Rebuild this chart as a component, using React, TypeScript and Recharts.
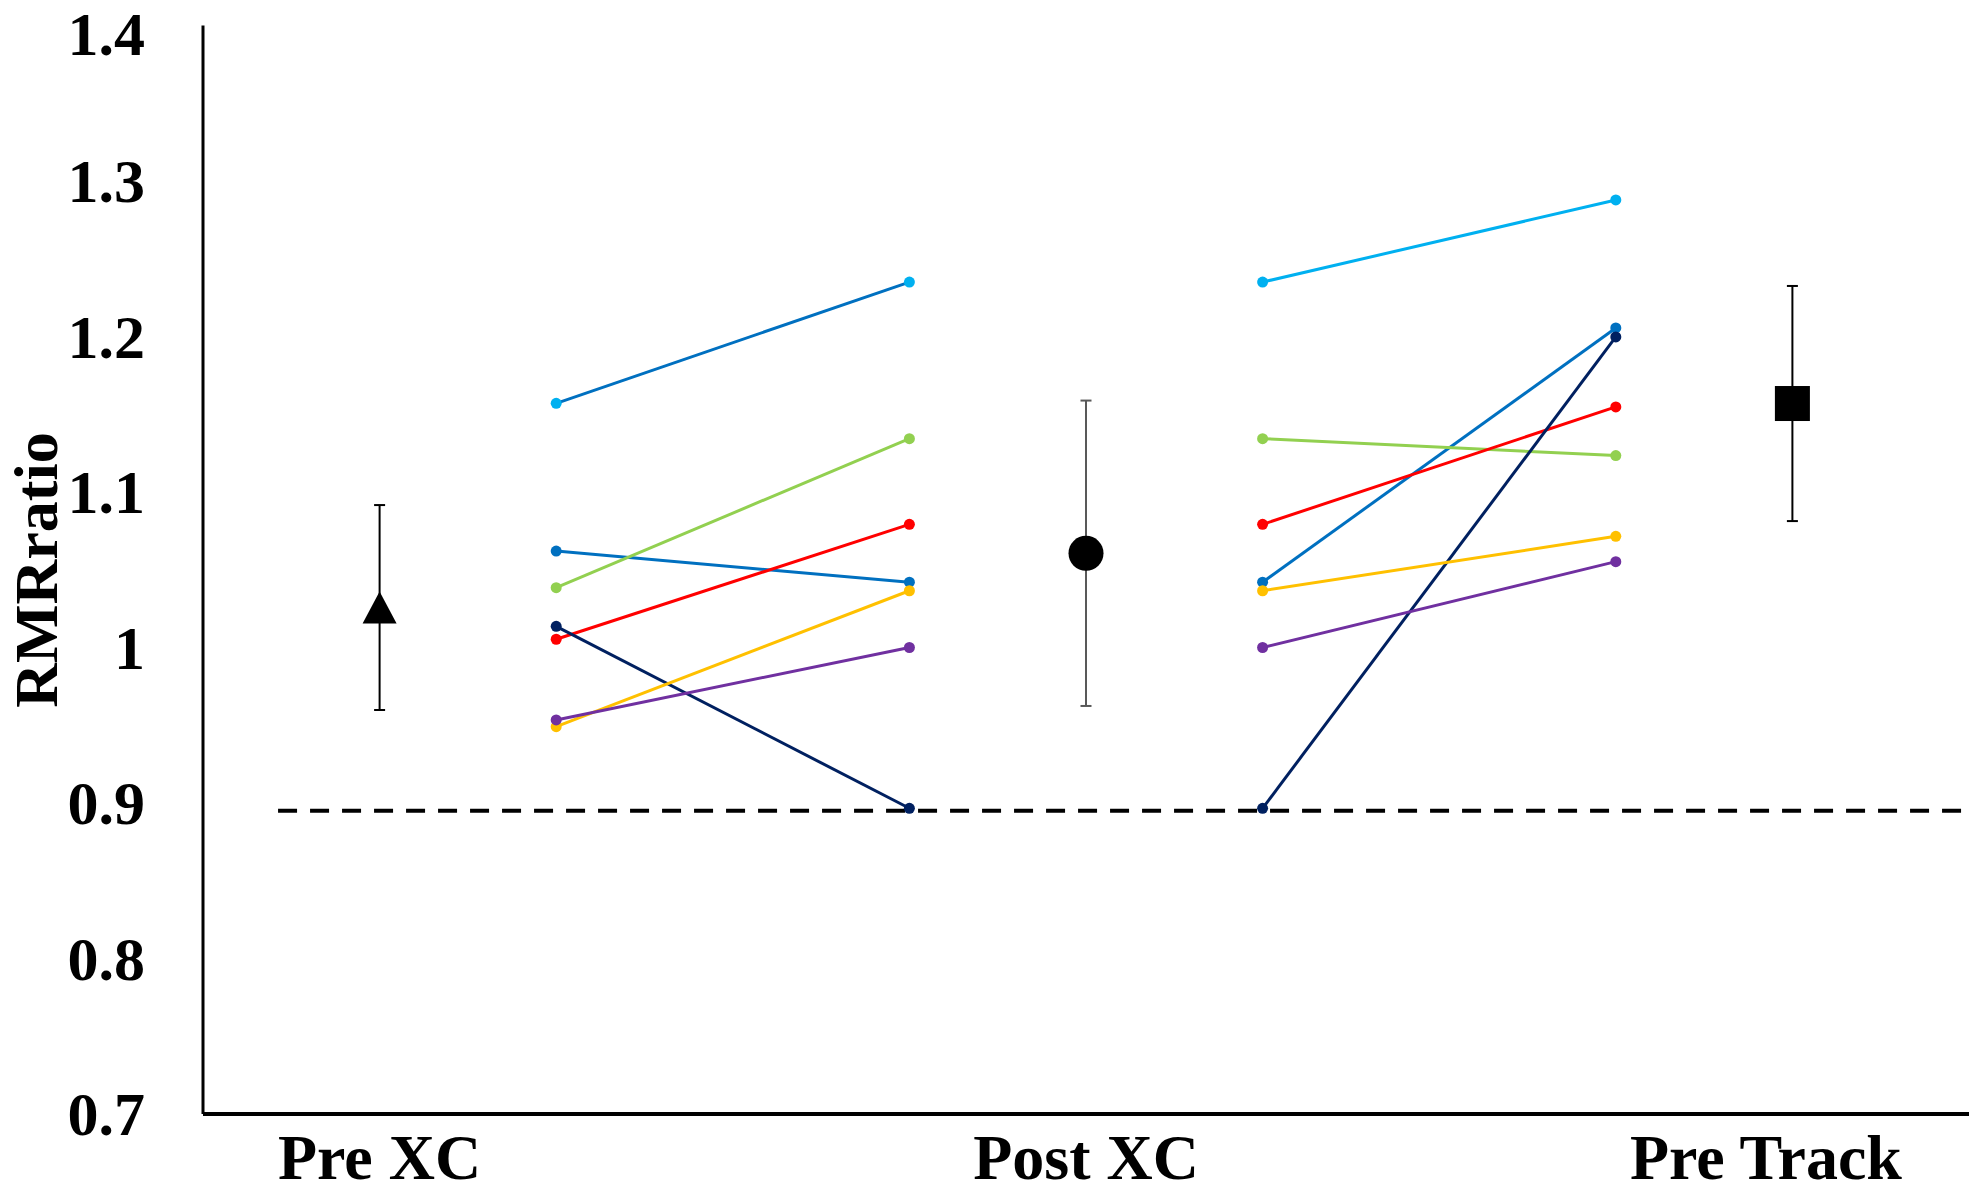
import type { ReactElement } from 'react';
import {
  ComposedChart,
  ErrorBar,
  ReferenceLine,
  Scatter,
  XAxis,
  YAxis,
} from 'recharts';

// Individual RMRratio values per athlete at the three time points.
const SUBJECT_COLORS = ['#00B0F0', '#0070C0', '#92D050', '#FF0000', '#002060', '#FFC000', '#7030A0'];
// the first athlete's Pre XC -> Post XC segment is drawn in the darker blue
const FIRST_LEG_LINE_COLORS = ['#0070C0', '#0070C0', '#92D050', '#FF0000', '#002060', '#FFC000', '#7030A0'];
const PRE_XC = [1.157, 1.062, 1.0385, 1.0053, 1.0136, 0.9491, 0.9534];
const POST_XC = [1.235, 1.042, 1.1343, 1.0792, 0.8966, 1.0365, 1.0];
const PRE_TRACK = [1.2878, 1.2055, 1.1234, 1.1547, 1.1997, 1.0715, 1.0552];

// x positions of the paired segments on the 0-10 axis
const FIRST_LEG_X = [2, 4];
const SECOND_LEG_X = [6, 8];

// group means with error (SD)
const MEAN_X = [1, 5, 9];
const MEAN_Y = [1.0257, 1.0606, 1.1569];
const MEAN_ERR = [0.0659, 0.0982, 0.0756];
const MEAN_ERR_COLORS = ['#000000', '#595959', '#000000'];

const THRESHOLD = 0.895;
const THRESHOLD_START_X = 0.425;

const Y_TICKS = [0.7, 0.8, 0.9, 1.0, 1.1, 1.2, 1.3, 1.4];
const X_TICKS = [1, 5, 8.85];
const X_LABELS = ['Pre XC', 'Post XC', 'Pre Track'];

const FONT = "'Liberation Serif', 'Times New Roman', serif";

function YTick({ y, payload }: any): ReactElement {
  const v = Number(payload.value);
  // keep the top label inside the picture
  const ty = Math.max(y, 34);
  return (
    <text x={145} y={ty} dy={21} textAnchor="end" fontFamily={FONT} fontWeight="bold" fontSize={62} fill="#000">
      {String(Number(v.toFixed(1)))}
    </text>
  );
}

function XTick({ x, payload }: any): ReactElement {
  const i = X_TICKS.indexOf(Number(payload.value));
  return (
    <text x={x} y={1179} textAnchor="middle" fontFamily={FONT} fontWeight="bold" fontSize={64} fill="#000">
      {X_LABELS[i] ?? ''}
    </text>
  );
}

function Triangle({ cx, cy }: any): ReactElement {
  return <polygon points={`${cx},${cy - 16} ${cx - 17},${cy + 16} ${cx + 17},${cy + 16}`} fill="#000" />;
}

function Dot({ cx, cy }: any): ReactElement {
  return <circle cx={cx} cy={cy} r={17.5} fill="#000" />;
}

function Square({ cx, cy }: any): ReactElement {
  return <rect x={cx - 17.5} y={cy - 17.5} width={35} height={35} fill="#000" />;
}

const MEAN_SHAPES = [Triangle, Dot, Square];

function small(color: string) {
  return ({ cx, cy }: any): ReactElement => <circle cx={cx} cy={cy} r={5.5} fill={color} />;
}

export default function App(): ReactElement {
  const firstLeg = SUBJECT_COLORS.map((c, i) => ({
    color: c,
    line: FIRST_LEG_LINE_COLORS[i],
    data: [
      { x: FIRST_LEG_X[0], y: PRE_XC[i] },
      { x: FIRST_LEG_X[1], y: POST_XC[i] },
    ],
  }));
  const secondLeg = SUBJECT_COLORS.map((c, i) => ({
    color: c,
    line: c,
    data: [
      { x: SECOND_LEG_X[0], y: POST_XC[i] },
      { x: SECOND_LEG_X[1], y: PRE_TRACK[i] },
    ],
  }));
  const legs = [...firstLeg, ...secondLeg];

  return (
    <div style={{ position: 'absolute', left: 0, top: 0, background: '#fff' }}>
      <ComposedChart width={1969} height={1194} margin={{ top: 25.5, right: 0, bottom: 0, left: 0 }}>
        <XAxis
          type="number"
          dataKey="x"
          domain={[0, 10]}
          ticks={X_TICKS}
          tick={<XTick />}
          tickLine={false}
          axisLine={{ stroke: '#000', strokeWidth: 4 }}
          height={80}
          allowDataOverflow
        />
        <YAxis
          type="number"
          dataKey="y"
          domain={[0.7, 1.4]}
          ticks={Y_TICKS}
          tick={<YTick />}
          tickLine={false}
          axisLine={{ stroke: '#000', strokeWidth: 3 }}
          width={203}
          allowDataOverflow
          label={{
            content: () => (
              <text
                transform="translate(57,570) rotate(-90)"
                textAnchor="middle"
                fontFamily={FONT}
                fontWeight="bold"
                fontSize={62}
                fill="#000"
              >
                RMRratio
              </text>
            ),
          }}
        />
        <ReferenceLine
          segment={[
            { x: THRESHOLD_START_X, y: THRESHOLD },
            { x: 10, y: THRESHOLD },
          ]}
          stroke="#000"
          strokeWidth={4}
          strokeDasharray="19 13"
          ifOverflow="extendDomain"
        />
        {legs.map((s, i) => (
          <Scatter
            key={`leg-${i}`}
            data={s.data}
            fill={s.color}
            line={{ stroke: s.line, strokeWidth: 3 }}
            shape={small(s.color)}
            isAnimationActive={false}
          />
        ))}
        {MEAN_X.map((mx, i) => (
          <Scatter
            key={`mean-${i}`}
            data={[{ x: mx, y: MEAN_Y[i], err: MEAN_ERR[i] }]}
            fill="#000"
            shape={MEAN_SHAPES[i]}
            isAnimationActive={false}
          >
            <ErrorBar
              dataKey="err"
              direction="y"
              width={5.5}
              stroke={MEAN_ERR_COLORS[i]}
              strokeWidth={2}
              isAnimationActive={false}
            />
          </Scatter>
        ))}
      </ComposedChart>
    </div>
  );
}
